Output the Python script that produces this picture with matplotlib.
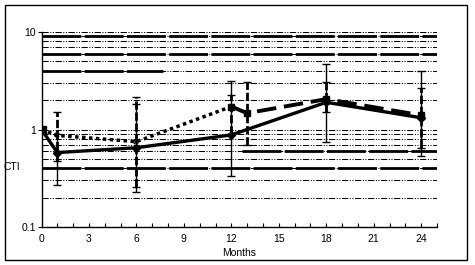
import numpy as np
import matplotlib
matplotlib.use('Agg')
import matplotlib.pyplot as plt
from matplotlib.patches import Rectangle
from matplotlib.ticker import LogLocator, FixedLocator, NullFormatter

from matplotlib import rc
rc('font', **{'family': 'sans-serif', 'sans-serif': ['Liberation Sans'], 'size': 7.5})

# solid series (diamonds)
months_a = [0, 1, 6, 12, 18, 24]
cti_a = [1.0, 0.58, 0.65, 0.88, 1.9, 1.32]
lo_a = [1.0, 0.27, 0.23, 0.33, 0.75, 0.53]
hi_a = [1.0, 0.9, 1.83, 3.14, 4.7, 4.0]

# dotted part of second series
months_b = [0, 1, 6, 12]
cti_b = [1.0, 0.87, 0.75, 1.72]

# dashed part of second series (squares)
months_c = [12, 13, 18, 24]
cti_c = [1.72, 1.47, 2.05, 1.4]

# error bars of second series
err_months = [1, 6, 12, 13, 18, 24]
err_mid = [0.87, 0.75, 1.72, 1.47, 2.05, 1.4]
err_lo = [0.47, 0.26, 0.9, 0.69, 1.5, 0.65]
err_hi = [1.52, 2.14, 2.26, 3.1, 3.1, 2.64]

xticks = [0, 3, 6, 9, 12, 15, 18, 21, 24]
yticks = [0.1, 1, 10]
ylabels = ['0.1', '1', '10']

W, H = 475, 265
fig = plt.figure(figsize=(W / 100, H / 100), dpi=100)
ax = fig.add_axes([41.5 / W, 1 - 227 / H, (437 - 41.5) / W, (227 - 32) / H])

ax.set_yscale('log')
ax.set_ylim(0.1, 10)
ax.set_xlim(0, 25)

# grid: thin dash-dot-dot at every log step
ddot = (0, (6, 1.5, 1, 1.5, 1, 1.5))
ax.yaxis.set_minor_locator(LogLocator(base=10, subs=np.arange(2, 10)))
ax.yaxis.set_minor_formatter(NullFormatter())
ax.grid(which='both', axis='y', color='k', lw=0.75, ls=ddot, zorder=0)
# thick long-dash lines (excel leftovers)
thick = (0, (14, 1.2))
for v in [9, 6, 0.4]:
    ax.axhline(v, color='k', lw=2.0, ls=thick, zorder=1)
ax.axhline(4, xmin=0, xmax=7.7 / 25, color='k', lw=2.0, ls=thick, zorder=1)
ax.axhline(0.6, xmin=12.7 / 25, xmax=1, color='k', lw=2.0, ls=thick, zorder=1)

# error bars
ya = np.array(cti_a)
eb1 = ax.errorbar(months_a, cti_a, yerr=[ya - np.array(lo_a), np.array(hi_a) - ya],
                  fmt='none', ecolor='k', elinewidth=1.0, capsize=3, capthick=1.0, zorder=3)
ym = np.array(err_mid)
eb2 = ax.errorbar(err_months, err_mid, yerr=[ym - np.array(err_lo), np.array(err_hi) - ym],
                  fmt='none', ecolor='k', elinewidth=2.0, capsize=3, capthick=1.0, zorder=3)
eb2[2][0].set_linestyle((0, (3, 1)))

# series lines
ax.plot(months_b, cti_b, color='k', lw=2.5, ls=(0, (1, 1)), marker='x', ms=3, mew=1.2, zorder=4)
ax.plot(months_c, cti_c, color='k', lw=2.8, ls=(0, (5, 2)), marker='s', ms=5, zorder=4)
ax.plot(months_a, cti_a, color='k', lw=2.4, ls='-', marker='D', ms=4.5, zorder=5)
ax.plot([0], [1.0], color='k', marker='s', ms=6, zorder=6)

# axes styling
for s in ['top', 'right']:
    ax.spines[s].set_visible(False)
ax.spines['left'].set_linewidth(1.0)
ax.spines['bottom'].set_linewidth(1.0)
ax.xaxis.set_major_locator(FixedLocator(xticks))
ax.xaxis.set_minor_locator(FixedLocator(range(0, 26)))
ax.tick_params(axis='x', which='both', direction='in', length=3, width=0.8, pad=5)
ax.set_yticks(yticks)
ax.set_yticklabels(ylabels)
ax.tick_params(axis='y', which='major', direction='out', length=3, width=0.8, pad=1)
ax.tick_params(axis='y', which='minor', length=0)

ax.set_xlabel('Months', labelpad=3)
fig.text(12 / W, 1 - 167 / H, 'CTI', ha='center', va='center')

# outer frame
fig.patches.append(Rectangle((5 / W, 5 / H), 462 / W, 255 / H, transform=fig.transFigure,
                             fill=False, edgecolor='k', lw=1.0))

fig.savefig('out.png', dpi=100)
